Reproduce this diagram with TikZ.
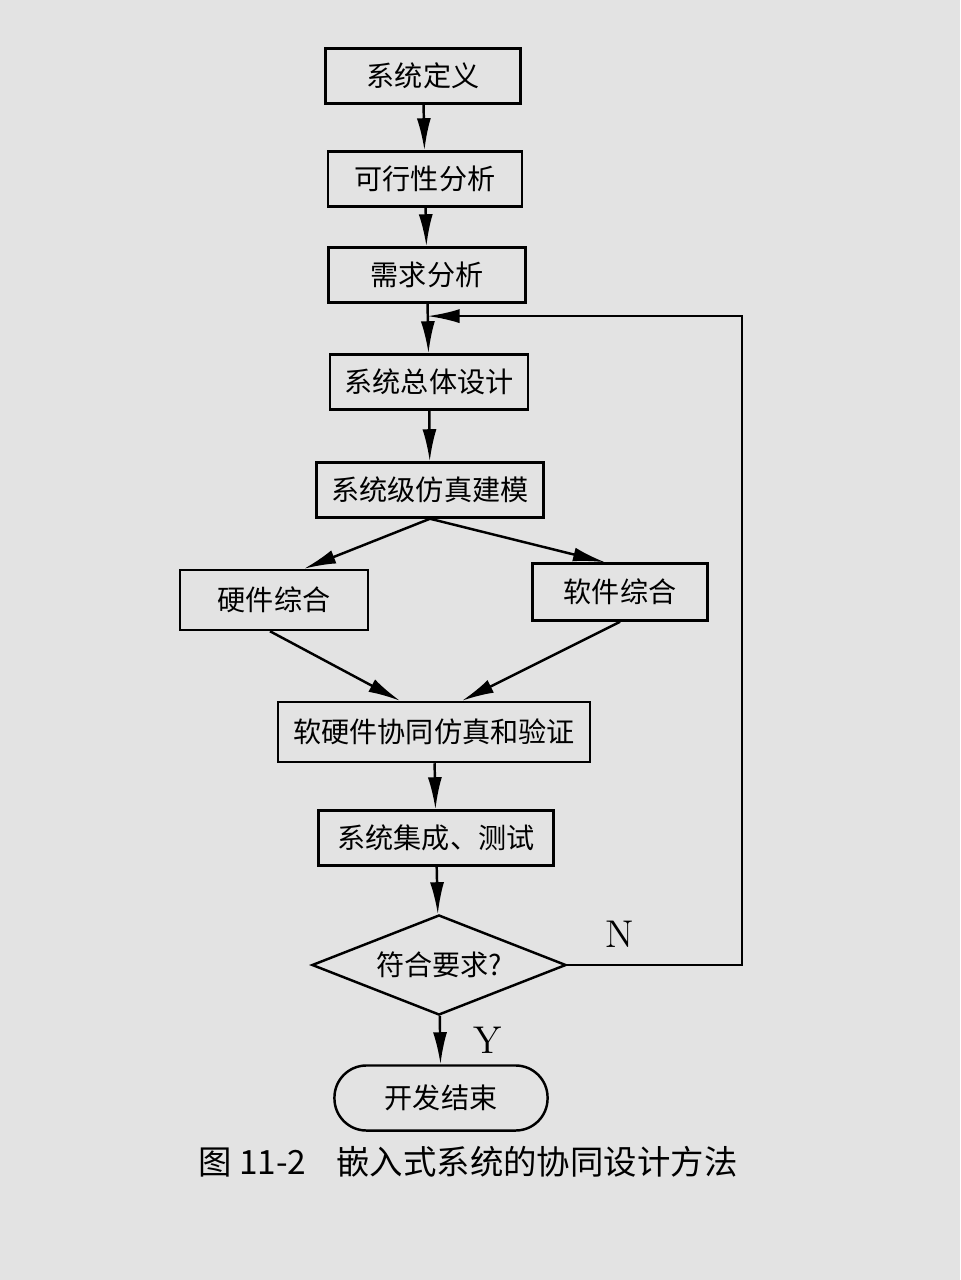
\documentclass[tikz,border=0pt]{standalone}
\usepackage{fontspec}
\newfontfamily\cjk{Noto Sans CJK SC}
\usetikzlibrary{arrows.meta,shapes.geometric,calc}

\tikzset{
  stepbox/.style={draw,line width=0.7pt,minimum height=0.55cm,inner sep=0pt,font=\cjk\fontsize{8}{9}\selectfont},
  decide/.style={draw,diamond,aspect=2.54,line width=0.7pt,inner sep=0pt,minimum width=2.54cm,minimum height=1cm,font=\cjk\fontsize{8}{9}\selectfont},
  finish/.style={draw,rounded corners=0.32cm,line width=0.7pt,minimum width=2.13cm,minimum height=0.65cm,font=\cjk\fontsize{8}{9}\selectfont},
  flow/.style={line width=0.7pt,-{Latex[length=3.2mm,width=1.4mm]}}
}

\begin{document}
\begin{tikzpicture}[x=0.01cm,y=-0.01cm]
\fill[gray!22] (0,0) rectangle (960,1280);
\useasboundingbox (0,0) rectangle (960,1280);
% main column
\node[stepbox,minimum width=1.95cm] (def)   at (423,76)  {系统定义};
\node[stepbox,minimum width=1.94cm] (feas)  at (425,179) {可行性分析};
\node[stepbox,minimum width=1.97cm] (req)   at (427,275) {需求分析};
\node[stepbox,minimum width=1.98cm] (arch)  at (429,382) {系统总体设计};
\node[stepbox,minimum width=2.27cm] (model) at (430,490) {系统级仿真建模};
% hardware / software branches
\node[stepbox,minimum width=1.88cm,minimum height=0.6cm] (hw) at (274,600) {硬件综合};
\node[stepbox,minimum width=1.75cm,minimum height=0.57cm] (sw) at (620,592) {软件综合};
\node[stepbox,minimum width=3.12cm,minimum height=0.6cm] (cosim) at (434,732) {软硬件协同仿真和验证};
\node[stepbox,minimum width=2.35cm] (integ) at (436,838) {系统集成、测试};
\node[decide] (check) at (439,965) {符合要求?};
\node[finish] (done)  at (441,1098) {开发结束};
% connectors
\draw[flow] (def) -- (feas);
\draw[flow] (feas) -- (req);
\draw[flow] (req) -- (arch);
\draw[flow] (arch) -- (model);
\draw[flow] (model.south) -- ($(hw.north)+(30,0)$);
\draw[flow] (model.south) -- ($(sw.north)+(-15,0)$);
\draw[flow] ($(hw.south)+(-4,0)$) -- ($(cosim.north)+(-34,0)$);
\draw[flow] ($(sw.south)+(0,0)$) -- ($(cosim.north)+(28,0)$);
\draw[flow] (cosim) -- (integ);
\draw[flow] (integ) -- (check);
\draw[flow] (check) -- node[pos=0.5,right=0.2cm,font=\fontsize{11}{12}\selectfont] {Y} (done);
% feedback loop
\coordinate (merge) at ($(req.south)!0.25!(arch.north)$);
\coordinate (corner) at (742,0);
\draw[flow] (check.east) -- node[pos=0.3,above=0.05cm,font=\fontsize{11}{12}\selectfont] {N} (corner |- check.east) -- (corner |- merge) -- (merge);
% caption
\node[font=\cjk\fontsize{9.5}{11}\selectfont,anchor=west] (cap) at (186,1162) {图 11-2\hspace{0.3cm}嵌入式系统的协同设计方法};
\end{tikzpicture}
\end{document}
